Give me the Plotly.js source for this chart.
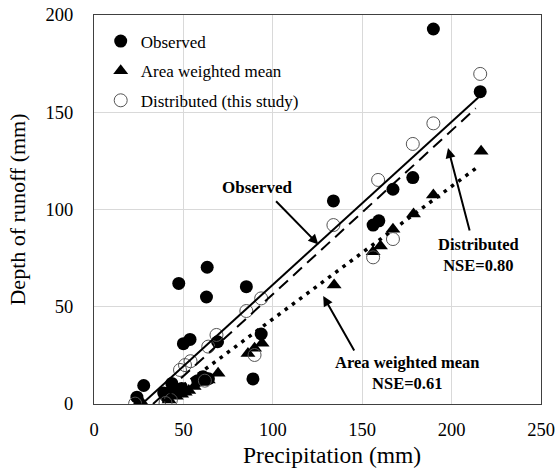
<!DOCTYPE html>
<html>
<head>
<meta charset="utf-8">
<script src="https://cdn.plot.ly/plotly-3.0.1.min.js"></script>
<style>html,body{margin:0;padding:0;background:#fff;}#chart{width:557px;height:473px;}</style>
</head>
<body>
<div id="chart"></div>
<script>
// Observed runoff vs precipitation
const obsX = [24, 27.8, 39, 41.5, 43.5, 46, 49, 47.4, 50, 53.7, 58, 61, 62.9, 63.3, 64, 69.1, 85.2, 88.9, 93.5, 133.9, 156.1, 159.3, 167.2, 178.3, 189.8, 216];
const obsY = [3.5, 9.5, 5.6, 5.5, 10.6, 6, 8, 62, 31, 33.2, 12, 14, 55, 70.3, 13, 32, 60.3, 12.9, 36, 104.4, 92, 94.2, 110.4, 116.4, 192.8, 160.6];
// Area weighted mean
const awmX = [25, 27, 42, 46, 49, 51, 53, 56, 60, 63.9, 69.4, 86.1, 89.8, 94, 134.3, 156.1, 160.2, 167.2, 178.7, 189.8, 216.5];
const awmY = [0.4, 0.5, 2, 4, 5, 6, 7, 9, 11, 12.3, 15.8, 26, 28.6, 31.2, 61.2, 78.3, 81.2, 89.8, 97.7, 107.5, 130];
// Distributed (this study)
const disX = [23, 40, 43, 48.1, 50.9, 54, 62, 63.9, 68.5, 85.2, 89.8, 93.5, 133.9, 156.1, 158.9, 167.2, 178.3, 189.8, 216];
const disY = [0.2, 0.5, 2, 17.5, 20, 22, 12, 29.5, 35.5, 47.8, 25.2, 54.3, 92, 75.4, 115.2, 84.8, 133.7, 144.3, 169.7];
// Fitted lines (end points)
const fitObsX = [26.8, 216];
const fitObsY = [0, 158.5];
const fitDisX = [33, 213.5];
const fitDisY = [0, 152];
const fitAwmX = [38, 214.8];
const fitAwmY = [1.4, 122];
// Axis ticks
const xTicks = [0, 50, 100, 150, 200, 250];
const yTicks = [0, 50, 100, 150, 200];

const FONT = 'Liberation Serif, Times New Roman, serif';

const traces = [
  {x: obsX, y: obsY, type: 'scatter', mode: 'markers', name: 'Observed', legendgroup: 'a',
   marker: {symbol: 'circle', size: 13, color: '#000'}},
  {x: awmX, y: awmY, type: 'scatter', mode: 'markers', name: 'Area weighted mean', legendgroup: 'b',
   marker: {symbol: 'triangle-up', size: 13, color: '#000'}},
  {x: disX, y: disY, type: 'scatter', mode: 'markers', name: 'Distributed (this study)', legendgroup: 'c',
   marker: {symbol: 'circle-open', size: 13, color: '#555', line: {width: 1, color: '#555'}}},
  {x: fitObsX, y: fitObsY, type: 'scatter', mode: 'lines', showlegend: false,
   line: {color: '#000', width: 2}},
  {x: fitDisX, y: fitDisY, type: 'scatter', mode: 'lines', showlegend: false,
   line: {color: '#000', width: 2, dash: '12px,7px'}},
  {x: fitAwmX, y: fitAwmY, type: 'scatter', mode: 'lines', showlegend: false,
   line: {color: '#000', width: 3.5, dash: '3.5px,5.5px'}}
];

const bold = {family: FONT, size: 17, color: '#000'};
const bold2 = {family: FONT, size: 16.5, color: '#000'};
const annotations = [
  {x: 91, y: 111.1, xref: 'x', yref: 'y', text: '<b>Observed</b>', showarrow: false, font: bold},
  {x: 215.3, y: 76.6, xref: 'x', yref: 'y', text: '<b>Distributed</b><br><b>NSE=0.80</b>',
   align: 'center', showarrow: false, font: bold2},
  {x: 175.6, y: 15.7, xref: 'x', yref: 'y', text: '<b>Area weighted mean</b><br><b>NSE=0.61</b>',
   align: 'center', showarrow: false, font: bold2},
  // arrows
  {x: 125.5, y: 82, ax: 101, ay: 105, xref: 'x', yref: 'y', axref: 'x', ayref: 'y', text: '',
   showarrow: true, arrowhead: 2, arrowsize: 1, arrowwidth: 2, arrowcolor: '#000'},
  {x: 198, y: 131.6, ax: 210.3, ay: 88.4, xref: 'x', yref: 'y', axref: 'x', ayref: 'y', text: '',
   showarrow: true, arrowhead: 2, arrowsize: 1, arrowwidth: 2, arrowcolor: '#000'},
  {x: 128.2, y: 55.5, ax: 146, ay: 26.7, xref: 'x', yref: 'y', axref: 'x', ayref: 'y', text: '',
   showarrow: true, arrowhead: 2, arrowsize: 1, arrowwidth: 2, arrowcolor: '#000'},
  // x axis title
  {x: 0.532, y: -0.093, xref: 'paper', yref: 'paper', xanchor: 'center', yanchor: 'top',
   text: 'Precipitation (mm)', showarrow: false, font: {family: FONT, size: 23.5, color: '#000'}}
];

const layout = {
  width: 557, height: 473,
  margin: {l: 94, r: 16, t: 15, b: 69},
  paper_bgcolor: '#fff', plot_bgcolor: '#fff',
  font: {family: FONT, size: 17, color: '#000'},
  showlegend: true,
  legend: {x: 0.015, y: 0.978, xanchor: 'left', yanchor: 'top', bgcolor: 'rgba(0,0,0,0)',
           traceorder: 'grouped', tracegroupgap: 4.5, font: {family: FONT, size: 17, color: '#000'}},
  xaxis: {range: [0, 250], tickvals: xTicks, ticktext: xTicks.map(String), ticks: '',
          showgrid: true, gridcolor: '#d9d9d9', gridwidth: 1, zeroline: false,
          showline: true, linecolor: '#404040', linewidth: 1, mirror: true,
          ticklabelstandoff: 9, tickfont: {family: FONT, size: 18.5, color: '#000'}},
  yaxis: {range: [0, 200], tickvals: yTicks, ticktext: yTicks.map(String), ticks: '',
          showgrid: true, gridcolor: '#d9d9d9', gridwidth: 1, zeroline: false,
          showline: true, linecolor: '#404040', linewidth: 1, mirror: true,
          ticklabelstandoff: 16, tickfont: {family: FONT, size: 18.5, color: '#000'},
          title: {text: 'Depth of runoff (mm)', font: {family: FONT, size: 22, color: '#000'}, standoff: 13}},
  annotations: annotations
};

Plotly.newPlot('chart', traces, layout, {displayModeBar: false, staticPlot: true});
</script>
</body>
</html>
